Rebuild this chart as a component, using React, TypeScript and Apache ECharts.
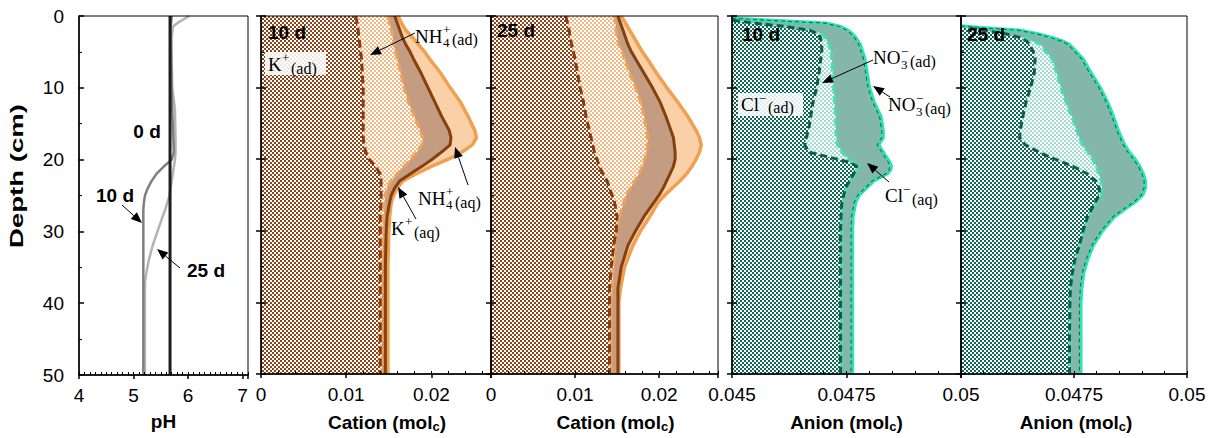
import React, { useEffect, useRef } from "react";
import * as echarts from "echarts";

// ---------------- DATA ----------------
// pH profiles (depth in cm)
const phDepth0 = [0, 50];
const ph0d = [5.67, 5.67];
const phDepth = [0, 1, 1.5, 3, 6, 10, 13, 17, 19, 20, 21, 22, 23, 24, 25, 26, 27, 28, 30, 32, 34, 36, 37, 38, 40, 45, 50];
const ph10d = [5.70, 5.69, 5.68, 5.68, 5.69, 5.70, 5.71, 5.73, 5.74, 5.70, 5.55, 5.42, 5.33, 5.26, 5.21, 5.19, 5.18, 5.18, 5.18, 5.18, 5.18, 5.18, 5.18, 5.18, 5.18, 5.18, 5.18];
const ph25d = [6.02, 5.80, 5.72, 5.70, 5.70, 5.71, 5.76, 5.77, 5.77, 5.76, 5.74, 5.72, 5.70, 5.68, 5.66, 5.62, 5.58, 5.53, 5.44, 5.35, 5.28, 5.23, 5.21, 5.21, 5.21, 5.21, 5.21];

// Cation, 10 d (cumulative boundaries, molc)
const cat10Depth = [0, 1, 2, 3, 4, 5, 6, 8, 10, 12, 14, 16, 17, 18, 19, 20, 21, 22, 23, 24, 25, 26, 28, 30, 35, 40, 45, 50];
const cat10Kad = [0.0111, 0.0113, 0.0114, 0.0115, 0.0116, 0.0117, 0.0118, 0.0119, 0.0120, 0.0120, 0.0120, 0.0120, 0.0120, 0.0121, 0.0123, 0.0127, 0.0134, 0.0140, 0.0141, 0.0141, 0.0141, 0.0141, 0.0140, 0.0140, 0.0140, 0.0140, 0.0140, 0.0140];
const cat10NH4ad = [0.0149, 0.0151, 0.0153, 0.0155, 0.0156, 0.0158, 0.0160, 0.0164, 0.0168, 0.0173, 0.0180, 0.0187, 0.0190, 0.0189, 0.0183, 0.0176, 0.0168, 0.0160, 0.0153, 0.0148, 0.0146, 0.0145, 0.0144, 0.0143, 0.0142, 0.0142, 0.0142, 0.0142];
const cat10Kaq = [0.0157, 0.0160, 0.0163, 0.0166, 0.0170, 0.0175, 0.0179, 0.0188, 0.0196, 0.0204, 0.0212, 0.0221, 0.0223, 0.0222, 0.0212, 0.0201, 0.0189, 0.0176, 0.0163, 0.0157, 0.0153, 0.0151, 0.0148, 0.0147, 0.0146, 0.0146, 0.0146, 0.0146];
const cat10NH4aq = [0.0161, 0.0165, 0.0170, 0.0178, 0.0185, 0.0192, 0.0198, 0.0211, 0.0222, 0.0234, 0.0243, 0.0251, 0.0253, 0.0248, 0.0236, 0.0220, 0.0200, 0.0183, 0.0167, 0.0160, 0.0156, 0.0153, 0.0151, 0.0150, 0.0149, 0.0149, 0.0149, 0.0149];

// Cation, 25 d
const cat25Depth = [0, 1, 2, 3, 4, 5, 6, 8, 10, 12, 14, 16, 17, 18, 19, 20, 21, 22, 23, 24, 25, 26, 28, 30, 32, 35, 38, 40, 45, 50];
const cat25Kad = [0.0089, 0.0091, 0.0093, 0.0094, 0.0096, 0.0098, 0.0100, 0.0103, 0.0106, 0.0110, 0.0113, 0.0117, 0.0119, 0.0121, 0.0123, 0.0126, 0.0129, 0.0133, 0.0138, 0.0141, 0.0144, 0.0147, 0.0150, 0.0149, 0.0146, 0.0143, 0.0141, 0.0141, 0.0141, 0.0141];
const cat25NH4ad = [0.0147, 0.0148, 0.0149, 0.0150, 0.0152, 0.0156, 0.0159, 0.0165, 0.0172, 0.0178, 0.0182, 0.0185, 0.0186, 0.0186, 0.0185, 0.0183, 0.0180, 0.0176, 0.0171, 0.0166, 0.0161, 0.0158, 0.0153, 0.0150, 0.0148, 0.0146, 0.0144, 0.0143, 0.0143, 0.0143];
const cat25Kaq = [0.0151, 0.0154, 0.0157, 0.0160, 0.0163, 0.0167, 0.0172, 0.0182, 0.0192, 0.0201, 0.0208, 0.0214, 0.0217, 0.0218, 0.0219, 0.0219, 0.0217, 0.0213, 0.0209, 0.0205, 0.0200, 0.0194, 0.0182, 0.0172, 0.0163, 0.0155, 0.0151, 0.0151, 0.0151, 0.0151];
const cat25NH4aq = [0.0155, 0.0160, 0.0165, 0.0170, 0.0175, 0.0180, 0.0186, 0.0197, 0.0209, 0.0222, 0.0234, 0.0244, 0.0248, 0.0250, 0.0248, 0.0244, 0.0239, 0.0233, 0.0225, 0.0216, 0.0207, 0.0199, 0.0189, 0.0178, 0.0169, 0.0159, 0.0154, 0.0152, 0.0152, 0.0152];

// Anion, 10 d
const an10Depth = [0, 0.3, 0.6, 1, 1.5, 2, 2.5, 3, 4, 5, 6, 8, 10, 12, 14, 16, 17, 18, 19, 20, 20.5, 21, 21.5, 22, 23, 24, 25, 26, 28, 30, 35, 40, 45, 50];
const an10Clad = [0.0450, 0.0450, 0.04502, 0.0455, 0.0462, 0.0467, 0.04688, 0.04693, 0.04696, 0.04696, 0.04694, 0.0469, 0.04685, 0.04677, 0.04672, 0.04667, 0.04662, 0.04659, 0.04668, 0.0473, 0.0476, 0.04772, 0.0477, 0.04766, 0.04757, 0.04748, 0.04744, 0.0474, 0.04738, 0.04737, 0.04737, 0.04737, 0.04737, 0.04737];
const an10NO3ad = [0.0450, 0.0450, 0.04505, 0.04552, 0.04622, 0.04675, 0.04695, 0.04703, 0.04712, 0.04716, 0.04718, 0.0472, 0.04722, 0.04724, 0.04726, 0.04727, 0.04728, 0.0473, 0.0474, 0.04755, 0.04767, 0.04775, 0.04772, 0.04768, 0.04759, 0.0475, 0.04746, 0.04742, 0.0474, 0.04739, 0.04739, 0.04739, 0.04739, 0.04739];
const an10Claq = [0.0450, 0.0450, 0.04577, 0.04702, 0.04735, 0.0475, 0.0476, 0.04767, 0.04777, 0.04782, 0.04787, 0.04792, 0.04797, 0.04807, 0.04822, 0.04827, 0.04827, 0.04817, 0.04827, 0.04837, 0.04842, 0.04845, 0.04843, 0.04837, 0.04807, 0.04791, 0.04775, 0.04767, 0.04761, 0.0476, 0.0476, 0.0476, 0.0476, 0.0476];
const an10NO3aq = [0.0450, 0.0450, 0.0458, 0.04705, 0.04738, 0.04753, 0.04763, 0.0477, 0.0478, 0.04785, 0.0479, 0.04795, 0.0480, 0.0481, 0.04825, 0.0483, 0.0483, 0.0482, 0.0483, 0.0484, 0.04845, 0.04848, 0.04846, 0.0484, 0.0481, 0.04794, 0.04778, 0.0477, 0.04764, 0.04763, 0.04763, 0.04763, 0.04763, 0.04763];

// Anion, 25 d
const an25Depth = [0, 1, 1.4, 1.7, 2, 2.5, 3, 3.5, 4, 5, 6, 8, 10, 12, 14, 16, 17, 18, 19, 20, 21, 22, 23, 24, 25, 26, 27, 28, 30, 32, 34, 36, 38, 40, 45, 50];
const an25Clad = [0.0450, 0.0450, 0.0450, 0.0452, 0.0455, 0.0460, 0.0463, 0.04645, 0.04652, 0.0466, 0.04664, 0.04662, 0.04654, 0.04644, 0.04637, 0.04631, 0.0463, 0.04642, 0.04672, 0.04708, 0.04748, 0.04778, 0.04798, 0.04806, 0.04806, 0.04797, 0.04789, 0.0478, 0.0477, 0.04762, 0.04752, 0.04746, 0.04742, 0.04741, 0.0474, 0.0474];
const an25NO3ad = [0.0450, 0.0450, 0.0450, 0.04521, 0.04552, 0.04603, 0.04636, 0.04658, 0.04677, 0.04688, 0.04702, 0.04712, 0.04721, 0.04732, 0.04745, 0.04756, 0.04762, 0.04769, 0.04781, 0.04791, 0.04799, 0.04805, 0.0481, 0.04812, 0.0481, 0.048, 0.04791, 0.04782, 0.04771, 0.04763, 0.04753, 0.04747, 0.04743, 0.04742, 0.04741, 0.04741];
const an25Claq = [0.0450, 0.0450, 0.0450, 0.04558, 0.04627, 0.04667, 0.04697, 0.04722, 0.04737, 0.04752, 0.04767, 0.04785, 0.04805, 0.04821, 0.04834, 0.04845, 0.04852, 0.04859, 0.04869, 0.04882, 0.04892, 0.049, 0.04905, 0.04905, 0.04899, 0.04882, 0.04859, 0.04837, 0.0481, 0.0479, 0.04777, 0.04768, 0.04764, 0.04762, 0.04762, 0.04762];
const an25NO3aq = [0.0450, 0.0450, 0.0450, 0.0456, 0.0463, 0.0467, 0.0470, 0.04725, 0.0474, 0.04755, 0.0477, 0.04788, 0.04808, 0.04824, 0.04837, 0.04848, 0.04855, 0.04862, 0.04872, 0.04885, 0.04895, 0.04903, 0.04908, 0.04908, 0.04902, 0.04885, 0.04862, 0.0484, 0.04813, 0.04793, 0.0478, 0.04771, 0.04767, 0.04765, 0.04765, 0.04765];

// Tick labels
const depthTicks = [0, 10, 20, 30, 40, 50];
const phTicks = [4, 5, 6, 7];
const cationTicks = [0, 0.01, 0.02];
const anionTicks = [0.045, 0.0475, 0.05];
const anionTicks25 = [0.0475, 0.05];

// ---------------- STYLE / LAYOUT ----------------
const SANS = "'Liberation Sans', Arial, Helvetica, sans-serif";
const SERIF = "'Liberation Serif', 'Times New Roman', serif";
const TOP = 16;
const HEIGHT = 359;
const PANELS = [
  { left: 79, width: 169, min: 4, max: 7.1, interval: 1, minor: 0.1, ticks: phTicks, name: "pH", shift: 0 },
  { left: 261, width: 230, min: 0, max: 0.027, interval: 0.01, minor: 0.002, ticks: cationTicks, name: "Cation (mol{s|c})", shift: 22 },
  { left: 491, width: 227, min: 0, max: 0.027, interval: 0.01, minor: 0.002, ticks: cationTicks, name: "Cation (mol{s|c})", shift: 22 },
  { left: 732, width: 229, min: 0.045, max: 0.05, interval: 0.0025, minor: 0.0005, ticks: anionTicks, name: "Anion (mol{s|c})", shift: 0 },
  { left: 961, width: 226, min: 0.045, max: 0.05, interval: 0.0025, minor: 0.0005, ticks: anionTicks25, name: "Anion (mol{s|c})", shift: 4 },
];

function fmt(v: number, ticks: number[]) {
  const hit = ticks.find((t) => Math.abs(t - v) < 1e-9);
  return hit === undefined ? "" : String(hit);
}

function makePattern(fg: string) {
  const c = document.createElement("canvas");
  c.width = 4;
  c.height = 4;
  const g = c.getContext("2d")!;
  g.fillStyle = "#ffffff";
  g.fillRect(0, 0, 4, 4);
  g.fillStyle = fg;
  g.fillRect(0, 0, 2, 2);
  g.fillRect(2, 2, 2, 2);
  return { image: c.toDataURL(), repeat: "repeat", imageWidth: 4, imageHeight: 4 };
}

function band(gi: number, depth: number[], left: number | number[], right: number[], fill: any, z: number) {
  const lo = (k: number) => (typeof left === "number" ? left : left[k]);
  return {
    type: "custom",
    coordinateSystem: "cartesian2d",
    xAxisIndex: gi,
    yAxisIndex: gi,
    z,
    silent: true,
    clip: true,
    data: depth.map((d, k) => [right[k], d]),
    renderItem: (params: any, api: any) => {
      if (params.dataIndex !== 0) return null;
      const pts: number[][] = [];
      for (let k = 0; k < depth.length; k++) pts.push(api.coord([lo(k), depth[k]]));
      for (let k = depth.length - 1; k >= 0; k--) pts.push(api.coord([right[k], depth[k]]));
      return { type: "polygon", shape: { points: pts }, style: { fill, stroke: null } };
    },
  };
}

// from: first index of the profile to draw (skips points lying on the axis)
function line(gi: number, depth: number[], vals: number[], color: string, width: number, type: any, z: number, from = 0) {
  const data: number[][] = [];
  for (let k = from; k < depth.length; k++) data.push([vals[k], depth[k]]);
  return {
    type: "line",
    xAxisIndex: gi,
    yAxisIndex: gi,
    z,
    silent: true,
    symbol: "none",
    showSymbol: false,
    data,
    lineStyle: { color, width, type, cap: "butt", join: "round" },
  };
}

function arrow(x1: number, y1: number, x2: number, y2: number) {
  const dx = x2 - x1;
  const dy = y2 - y1;
  const len = Math.sqrt(dx * dx + dy * dy);
  const ux = dx / len;
  const uy = dy / len;
  const L = 11;
  const W = 4.5;
  const bx = x2 - ux * L;
  const by = y2 - uy * L;
  return {
    type: "group",
    z: 100,
    children: [
      { type: "line", z: 100, shape: { x1, y1, x2: bx, y2: by }, style: { stroke: "#000", lineWidth: 1 } },
      {
        type: "polygon",
        z: 100,
        shape: { points: [[x2, y2], [bx - uy * W, by + ux * W], [bx + uy * W, by - ux * W]] },
        style: { fill: "#000" },
      },
    ],
  };
}

function txt(text: string, x: number, y: number, size: number, family: string, weight: string, align = "left") {
  return {
    type: "text",
    z: 100,
    x,
    y,
    style: { text, fontSize: size, fontFamily: family, fontWeight: weight, fill: "#000", align, verticalAlign: "middle" },
  };
}

const BIG = 19;
const SMALL = 13;
const TAIL = 16;
type Piece = [string, number, number, number];
function chem(pieces: Piece[]) {
  return pieces.map(([t, x, y, s]) => txt(t, x, y, s, SERIF, "normal"));
}

function buildOption() {
  const patKad = makePattern("#8c4418");
  const patNH4ad = makePattern("#f2b985");
  const patClad = makePattern("#0f6a52");
  const patNO3ad = makePattern("#a4dccd");

  const axisText = { fontFamily: SANS, fontSize: 19, color: "#000" };

  const grid = PANELS.map((p) => ({
    left: p.left,
    top: TOP,
    width: p.width,
    height: HEIGHT,
    show: true,
    borderColor: "#000",
    borderWidth: 1,
    backgroundColor: "transparent",
    z: 10,
  }));

  const xMain = PANELS.map((p, i) => ({
    type: "value",
    gridIndex: i,
    min: p.min,
    max: p.max,
    interval: p.interval,
    position: "bottom",
    z: 10,
    axisLine: { show: true, onZero: false, lineStyle: { color: "#000", width: 1.5 } },
    axisTick: { show: true, inside: false, length: 4, lineStyle: { color: "#000", width: 1.5 } },
    axisLabel: { show: true, margin: 11, ...axisText, formatter: (v: number) => fmt(v, p.ticks) },
    splitLine: { show: false },
    name: p.name,
    nameLocation: "middle",
    nameGap: 37,
    nameTextStyle: {
      fontFamily: SANS,
      fontSize: 19,
      fontWeight: "bold",
      color: "#000",
      padding: [0, 0, 0, p.shift],
      rich: { s: { fontFamily: SANS, fontSize: 13, fontWeight: "bold", color: "#000", padding: [9, 0, 0, 0] } },
    },
  }));
  const xMinor = PANELS.map((p, i) => ({
    type: "value",
    gridIndex: i,
    min: p.min,
    max: p.max,
    interval: p.minor,
    position: "bottom",
    z: 10,
    axisLine: { show: false, onZero: false },
    axisTick: { show: true, inside: true, length: 3, lineStyle: { color: "#000", width: 1 } },
    axisLabel: { show: false },
    splitLine: { show: false },
  }));

  const yMain = PANELS.map((p, i) => ({
    type: "value",
    gridIndex: i,
    inverse: true,
    min: 0,
    max: 50,
    interval: 10,
    position: "left",
    z: 10,
    axisLine: { show: true, onZero: false, lineStyle: { color: "#000", width: 1.5 } },
    axisTick: { show: true, inside: true, length: 5, lineStyle: { color: "#000", width: 1.5 } },
    minorTick: { show: true, splitNumber: 2, length: 3, lineStyle: { color: "#000", width: 1 } },
    axisLabel: { show: i === 0, margin: 15, ...axisText, formatter: (v: number) => fmt(v, depthTicks) },
    splitLine: { show: false },
  }));
  const yOut = PANELS.slice(1).map((p, j) => ({
    type: "value",
    gridIndex: j + 1,
    inverse: true,
    min: 0,
    max: 50,
    interval: 10,
    position: "left",
    z: 10,
    axisLine: { show: false, onZero: false },
    axisTick: { show: true, inside: false, length: 5, lineStyle: { color: "#000", width: 1.5 } },
    axisLabel: { show: false },
    splitLine: { show: false },
  }));

  const dash = [8, 4];
  const series: any[] = [
    // pH
    line(0, phDepth, ph25d, "#b3b3b3", 2.5, "solid", 3),
    line(0, phDepth, ph10d, "#7f7f7f", 2.5, "solid", 3),
    line(0, phDepth0, ph0d, "#1e1e1e", 3, "solid", 4),

    // Cation 10 d
    band(1, cat10Depth, 0, cat10Kad, patKad, 1),
    band(1, cat10Depth, cat10Kad, cat10NH4ad, patNH4ad, 1),
    band(1, cat10Depth, cat10NH4ad, cat10Kaq, "#c49c82", 1),
    band(1, cat10Depth, cat10Kaq, cat10NH4aq, "#f9d0a8", 1),
    line(1, cat10Depth, cat10NH4aq, "#f0a050", 3.5, "solid", 3),
    line(1, cat10Depth, cat10Kaq, "#85400f", 3, "solid", 3),
    line(1, cat10Depth, cat10NH4ad, "#f0a258", 3, dash, 3),
    line(1, cat10Depth, cat10Kad, "#8a3c0c", 3, dash, 3),

    // Cation 25 d
    band(2, cat25Depth, 0, cat25Kad, patKad, 1),
    band(2, cat25Depth, cat25Kad, cat25NH4ad, patNH4ad, 1),
    band(2, cat25Depth, cat25NH4ad, cat25Kaq, "#c49c82", 1),
    band(2, cat25Depth, cat25Kaq, cat25NH4aq, "#f9d0a8", 1),
    line(2, cat25Depth, cat25NH4aq, "#f0a050", 3.5, "solid", 3),
    line(2, cat25Depth, cat25Kaq, "#85400f", 3, "solid", 3),
    line(2, cat25Depth, cat25NH4ad, "#f0a258", 3, dash, 3),
    line(2, cat25Depth, cat25Kad, "#8a3c0c", 3, dash, 3),

    // Anion 10 d
    band(3, an10Depth, 0.045, an10Clad, patClad, 1),
    band(3, an10Depth, an10Clad, an10NO3ad, patNO3ad, 1),
    band(3, an10Depth, an10NO3ad, an10Claq, "#82b7a9", 1),
    band(3, an10Depth, an10Claq, an10NO3aq, "#82b7a9", 1),
    line(3, an10Depth, an10NO3aq, "#2fe3b3", 3.5, "solid", 3, 1),
    line(3, an10Depth, an10Claq, "#2f6a5a", 1.2, [4, 3], 3, 1),
    line(3, an10Depth, an10NO3ad, "#42e0b6", 3, [7, 4], 3, 2),
    line(3, an10Depth, an10Clad, "#0d5e47", 3, [7, 4], 3, 2),

    // Anion 25 d
    band(4, an25Depth, 0.045, an25Clad, patClad, 1),
    band(4, an25Depth, an25Clad, an25NO3ad, patNO3ad, 1),
    band(4, an25Depth, an25NO3ad, an25Claq, "#82b7a9", 1),
    band(4, an25Depth, an25Claq, an25NO3aq, "#82b7a9", 1),
    line(4, an25Depth, an25NO3aq, "#2fe3b3", 3.5, "solid", 3, 2),
    line(4, an25Depth, an25Claq, "#2f6a5a", 1.2, [4, 3], 3, 2),
    line(4, an25Depth, an25NO3ad, "#42e0b6", 3, [7, 4], 3, 3),
    line(4, an25Depth, an25Clad, "#0d5e47", 3, [7, 4], 3, 3),
  ];

  const elements: any[] = [
    // y axis title
    {
      type: "text",
      z: 100,
      x: 17,
      y: 176,
      rotation: Math.PI / 2,
      scaleX: 1.45,
      style: { text: "Depth (cm)", fontSize: 19, fontFamily: SANS, fontWeight: "bold", fill: "#000", align: "center", verticalAlign: "middle" },
    },
    // pH curve labels
    txt("0 d", 147, 131, 19, SANS, "bold", "center"),
    txt("10 d", 115, 195, 19, SANS, "bold", "center"),
    txt("25 d", 206, 270, 19, SANS, "bold", "center"),
    arrow(122, 205, 142, 223),
    arrow(180, 268, 157, 249),
    // panel day labels
    txt("10 d", 268, 32, 19, SANS, "bold"),
    txt("25 d", 497, 30, 19, SANS, "bold"),
    txt("10 d", 742, 34, 19, SANS, "bold"),
    txt("25 d", 967, 34, 19, SANS, "bold"),
    // background boxes
    { type: "rect", z: 99, shape: { x: 265, y: 52, width: 61, height: 23 }, style: { fill: "rgba(255,255,255,0.88)" } },
    { type: "rect", z: 99, shape: { x: 738, y: 93, width: 65, height: 23 }, style: { fill: "rgba(255,255,255,0.88)" } },
    // species labels
    ...chem([["K", 268, 64, BIG], ["+", 282, 57, SMALL], ["(ad)", 291, 68, TAIL]]),
    ...chem([["NH", 415, 36, BIG], ["+", 443, 29, SMALL], ["4", 443, 42, SMALL], ["(ad)", 452, 39, TAIL]]),
    ...chem([["NH", 418, 198, BIG], ["+", 446, 191, SMALL], ["4", 446, 204, SMALL], ["(aq)", 455, 202, TAIL]]),
    ...chem([["K", 391, 228, BIG], ["+", 405, 221, SMALL], ["(aq)", 414, 232, TAIL]]),
    ...chem([["NO", 873, 57, BIG], ["\u2212", 901, 51, SMALL], ["3", 901, 64, SMALL], ["(ad)", 910, 61, TAIL]]),
    ...chem([["NO", 888, 104, BIG], ["\u2212", 916, 98, SMALL], ["3", 916, 111, SMALL], ["(aq)", 925, 108, TAIL]]),
    ...chem([["Cl", 741, 104, BIG], ["\u2212", 759, 98, SMALL], ["(ad)", 768, 107, TAIL]]),
    ...chem([["Cl", 885, 195, BIG], ["\u2212", 903, 189, SMALL], ["(aq)", 912, 199, TAIL]]),
    // arrows
    arrow(415, 33, 370, 55),
    arrow(468, 185, 455, 147),
    arrow(416, 219, 398, 187),
    arrow(873, 60, 822, 83),
    arrow(890, 97, 873, 86),
    arrow(889, 182, 867, 163),
  ];

  return {
    animation: false,
    backgroundColor: "#fff",
    grid,
    xAxis: [...xMain, ...xMinor],
    yAxis: [...yMain, ...yOut],
    series,
    graphic: { elements },
  };
}

export default function App() {
  const ref = useRef<HTMLDivElement>(null);
  useEffect(() => {
    if (!ref.current) return;
    const chart = echarts.init(ref.current, undefined, { renderer: "svg" });
    chart.setOption(buildOption() as any);
    return () => chart.dispose();
  }, []);
  return <div ref={ref} style={{ position: "absolute", left: 0, top: 0, width: 1216, height: 438, background: "#fff" }} />;
}
